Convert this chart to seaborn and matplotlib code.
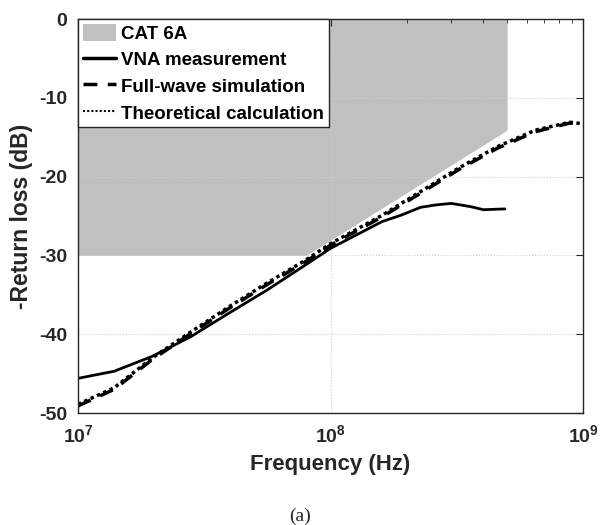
import numpy as np
import pandas as pd
import matplotlib
matplotlib.use('Agg')
import matplotlib.pyplot as plt
import seaborn as sns
from matplotlib.patches import Patch
from matplotlib.lines import Line2D

# valores (frequencia em Hz, perda de retorno em dB)
freq_sim = [1.0e7, 1.39e7, 1.97e7, 2.8e7, 3.97e7, 5.6e7, 7.96e7, 1.0e8, 1.6e8,
            2.27e8, 3.22e8, 4.57e8, 6.47e8, 8.85e8, 1.0e9]
rl_sim = [-49.1, -47.0, -43.2, -39.9, -36.7, -33.7, -30.8, -28.7, -25.1,
          -22.1, -19.1, -16.4, -14.3, -13.2, -13.4]
rl_teo = [-48.9, -46.8, -43.0, -39.7, -36.5, -33.5, -30.6, -28.5, -24.9,
          -21.9, -18.9, -16.2, -14.1, -13.1, -13.3]

freq_vna = [1.0e7, 1.39e7, 1.97e7, 2.8e7, 3.97e7, 5.6e7, 7.96e7, 1.0e8, 1.6e8,
            1.9e8, 2.27e8, 2.6e8, 3.0e8, 3.57e8, 4.03e8, 4.9e8]
rl_vna = [-45.6, -44.7, -42.8, -40.3, -37.3, -34.4, -31.2, -29.1, -25.7,
          -24.9, -23.9, -23.6, -23.4, -23.8, -24.2, -24.1]

# limite CAT 6A
freq_cat = [1.0e7, 8.0e7, 5.0e8]
rl_cat = [-30.0, -30.0, -14.1]

sns.set_style('white')
plt.rcParams['font.family'] = ['Liberation Sans', 'DejaVu Sans']
plt.rcParams['font.weight'] = 'bold'
plt.rcParams['axes.labelweight'] = 'bold'
plt.rcParams['axes.unicode_minus'] = False
plt.rcParams['mathtext.fontset'] = 'custom'
plt.rcParams['mathtext.rm'] = 'Liberation Sans:bold'
plt.rcParams['mathtext.bf'] = 'Liberation Sans:bold'
plt.rcParams['mathtext.default'] = 'bf'

fig = plt.figure(figsize=(6, 5.25), dpi=100)
ax = fig.add_axes([0.13, 0.2133, 0.842, 0.7505])

ax.fill_between(freq_cat, rl_cat, 0, color='#c0c0c0', linewidth=0, zorder=1)

df_sim = pd.DataFrame({'freq': freq_sim, 'rl': rl_sim})
df_teo = pd.DataFrame({'freq': freq_sim, 'rl': rl_teo})
df_vna = pd.DataFrame({'freq': freq_vna, 'rl': rl_vna})

sns.lineplot(ax=ax, x='freq', y='rl', data=df_vna, color='black', linewidth=2, zorder=3)
sns.lineplot(ax=ax, x='freq', y='rl', data=df_sim, color='black', linewidth=2.5,
             linestyle=(0, (4, 3)), zorder=3)
sns.lineplot(ax=ax, x='freq', y='rl', data=df_teo, color='black', linewidth=2.5,
             linestyle=(0, (1, 1)), zorder=3)

ax.set_xscale('log')
ax.set_xlim(1e7, 1e9)
ax.set_ylim(-50, 0)
ax.set_yticks([-50, -40, -30, -20, -10, 0])
ax.grid(True, which='major', linestyle=':', color='#d0d0d0', linewidth=0.8)
ax.set_axisbelow(False)
for s in ax.spines.values():
    s.set_color('#262626')
    s.set_linewidth(1)
    s.set_zorder(5)
ax.tick_params(which='both', direction='in', top=True, right=True, colors='#262626',
               labelsize=14, pad=8)
ax.tick_params(which='major', length=5)
ax.tick_params(which='minor', length=3)

ax.set_xlabel('Frequency (Hz)', fontsize=16, color='#262626', labelpad=6)
ax.set_ylabel('-Return loss (dB)', fontsize=16.5, color='#262626', labelpad=4)

handles = [Patch(facecolor='#c0c0c0', edgecolor='none'),
           Line2D([], [], color='black', linewidth=2.5),
           Line2D([], [], color='black', linewidth=2.5, linestyle=(0, (4, 3))),
           Line2D([], [], color='black', linewidth=1.5, linestyle=(0, (1, 1)))]
labels = ['CAT 6A', 'VNA measurement', 'Full-wave simulation', 'Theoretical calculation']
leg = ax.legend(handles, labels, loc='upper left', fontsize=13.5, frameon=True, fancybox=False,
                borderaxespad=0, handlelength=1.8, handleheight=1.05, handletextpad=0.25,
                borderpad=0.25, labelspacing=0.4, framealpha=1)
leg.get_frame().set_edgecolor('#262626')
leg.get_frame().set_linewidth(1)
leg.set_zorder(6)
for t in leg.get_texts():
    t.set_color('black')

fig.text(0.5, 1 - 516 / 525, '(a)', ha='center', va='center', fontsize=14,
         family='Liberation Serif', weight='normal')

plt.savefig('out.png', dpi=100)
